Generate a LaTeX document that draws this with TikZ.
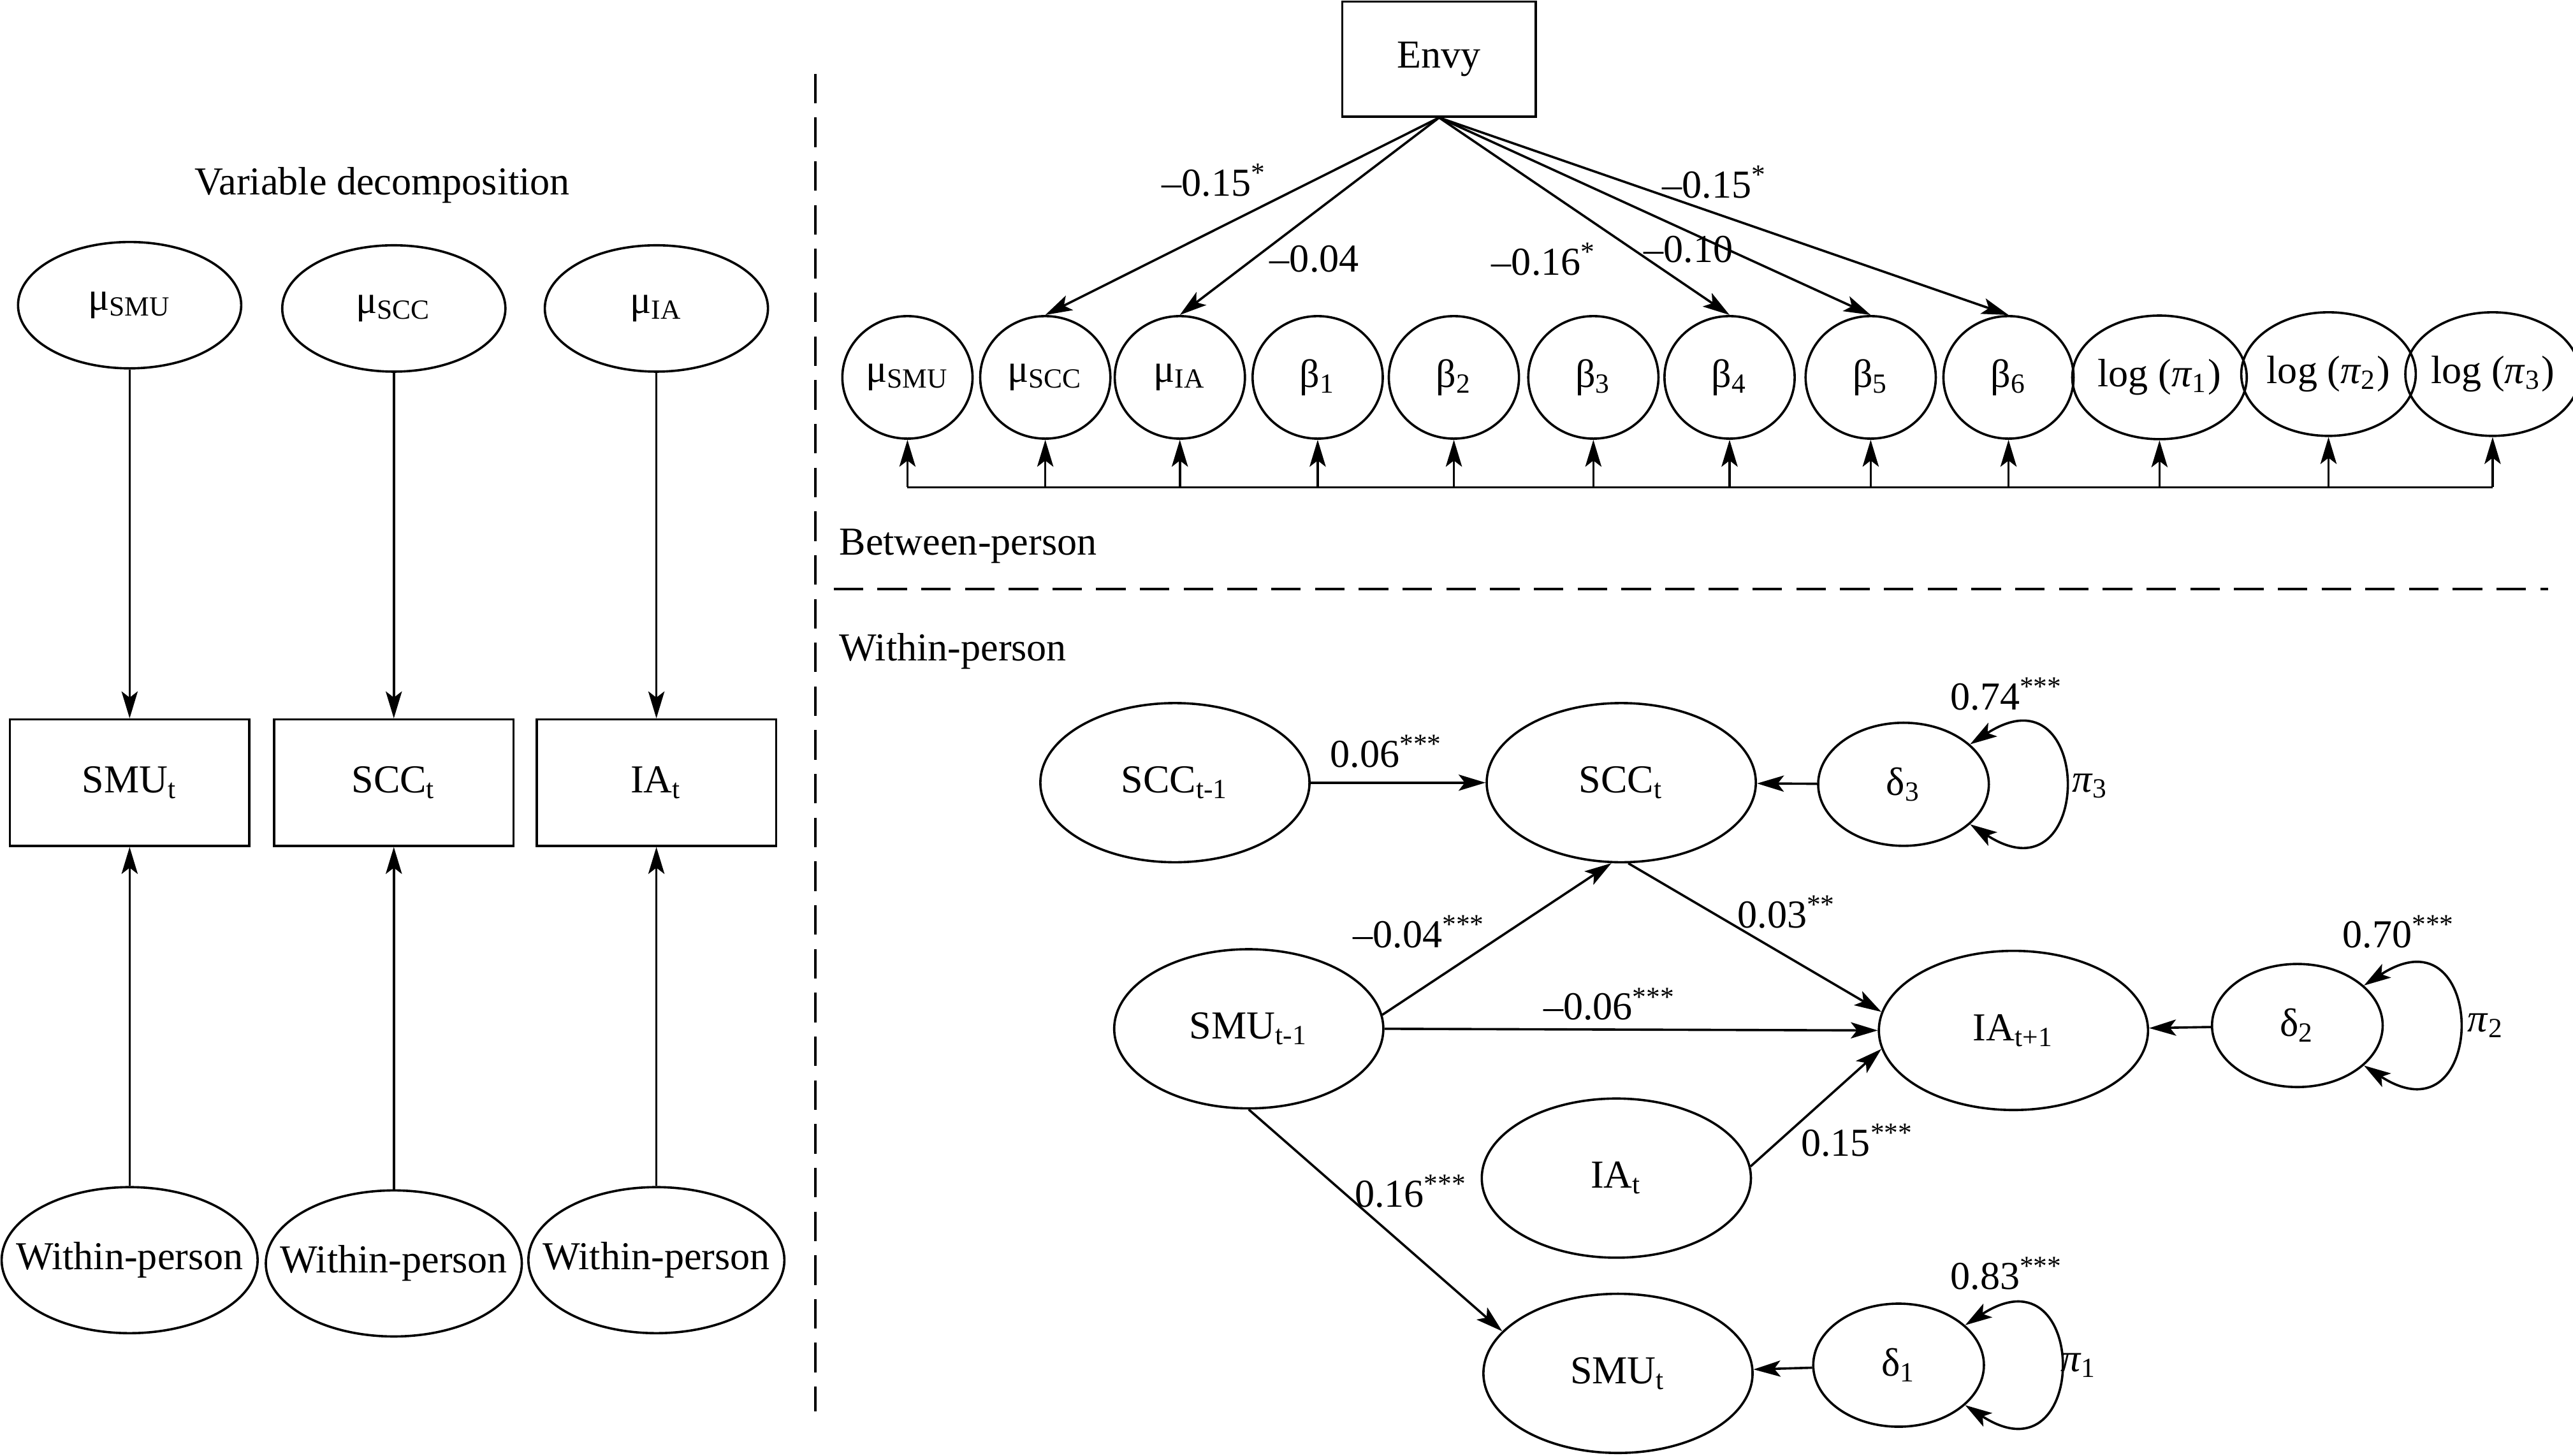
\documentclass[tikz,border=0pt]{standalone}
\usepackage{fontspec}
\setmainfont{Liberation Serif}
\usetikzlibrary{shapes.geometric,arrows.meta}

\begin{document}
\begin{tikzpicture}[x=0.015cm,y=0.015cm,line width=0.6pt,
  >={Stealth[length=7pt,width=4.2pt,inset=1.6pt]},
  every node/.style={font=\fontsize{10.3}{12}\selectfont},
  mubig/.style={draw,ellipse,inner sep=0pt,minimum width=2.04cm,minimum height=1.155cm},
  obsbox/.style={draw,rectangle,minimum width=2.19cm,minimum height=1.155cm},
  wpnode/.style={draw,ellipse,inner sep=0pt,minimum width=2.34cm,minimum height=1.335cm},
  coef/.style={draw,ellipse,inner sep=0pt,minimum width=1.19cm,minimum height=1.12cm},
  logcoef/.style={draw,ellipse,inner sep=0pt,minimum width=1.45cm,minimum height=1.13cm},
  latent/.style={draw,ellipse,inner sep=0pt,minimum width=2.46cm,minimum height=1.455cm},
  resid/.style={draw,ellipse,inner sep=0pt,minimum width=1.56cm,minimum height=1.125cm},
  dashline/.style={dash pattern=on 0.27cm off 0.13cm}]
\useasboundingbox (0,0) rectangle (1568,887);

\node (title) at (233,774) {Variable decomposition};
\node[mubig] (muL1) at (79,701) {μ\textsubscript{SMU}};
\node[mubig] (muL2) at (240,699) {μ\textsubscript{SCC}};
\node[mubig] (muL3) at (400,699) {μ\textsubscript{IA}};
\node[obsbox] (obsL1) at (79,410) {SMU\textsubscript{t}};
\node[obsbox] (obsL2) at (240,410) {SCC\textsubscript{t}};
\node[obsbox] (obsL3) at (400,410) {IA\textsubscript{t}};
\node[wpnode,label=center:{Within-person}] (wpL1) at (79,119) {};
\node[wpnode,label=center:{Within-person}] (wpL2) at (240,117) {};
\node[wpnode,label=center:{Within-person}] (wpL3) at (400,119) {};
\draw[->] (muL1) -- (obsL1);
\draw[->] (muL2) -- (obsL2);
\draw[->] (muL3) -- (obsL3);
\draw[->] (wpL1) -- (obsL1);
\draw[->] (wpL2) -- (obsL2);
\draw[->] (wpL3) -- (obsL3);

\coordinate (vtop) at (497,842);
\coordinate (vbot) at (497,27);
\coordinate (hleft) at (508,528);
\coordinate (hright) at (1553,528);
\draw[dashline] (vtop) -- (vbot);
\draw[dashline] (hleft) -- (hright);

\node[draw,rectangle,minimum width=1.77cm,minimum height=1.05cm] (envy) at (877,851) {Envy};
\node[coef] (mu1) at (553,657) {μ\textsubscript{SMU}};
\node[coef] (mu2) at (637,657) {μ\textsubscript{SCC}};
\node[coef] (mu3) at (719,657) {μ\textsubscript{IA}};
\node[coef] (b1) at (803,657) {β\textsubscript{1}};
\node[coef] (b2) at (886,657) {β\textsubscript{2}};
\node[coef] (b3) at (971,657) {β\textsubscript{3}};
\node[coef] (b4) at (1054,657) {β\textsubscript{4}};
\node[coef] (b5) at (1140,657) {β\textsubscript{5}};
\node[coef] (b6) at (1224,657) {β\textsubscript{6}};
\node[logcoef] (lp1) at (1316,657) {log (\textit{π}\textsubscript{1})};
\node[logcoef] (lp2) at (1419,659) {log (\textit{π}\textsubscript{2})};
\node[logcoef] (lp3) at (1519,659) {log (\textit{π}\textsubscript{3})};
\coordinate (baseL) at (553,590);
\coordinate (baseR) at (1519,590);
\draw (baseL) -- (baseR);
\foreach \n in {mu1,mu2,mu3,b1,b2,b3,b4,b5,b6,lp1,lp2,lp3}
  \draw[->] (\n |- baseL) -- (\n.south);
\draw[->] (envy.south) -- (mu2.north);
\draw[->] (envy.south) -- (mu3.north);
\draw[->] (envy.south) -- (b4.north);
\draw[->] (envy.south) -- (b5.north);
\draw[->] (envy.south) -- (b6.north);
\node (cE1) at (740,777) {–0.15\textsuperscript{*}};
\node (cE2) at (801,729) {–0.04};
\node (cE3) at (941,729) {–0.16\textsuperscript{*}};
\node (cE4) at (1029,735) {–0.10};
\node (cE5) at (1045,776) {–0.15\textsuperscript{*}};
\node[anchor=west] (btw) at (503,554) {Between-person};
\node[anchor=west] (wtn) at (503,490) {Within-person};

\node[latent] (sccP) at (716,410) {SCC\textsubscript{t-1}};
\node[latent] (sccT) at (988,410) {SCC\textsubscript{t}};
\node[latent] (smuP) at (761,260) {SMU\textsubscript{t-1}};
\node[latent] (iaN) at (1227,259) {IA\textsubscript{t+1}};
\node[latent] (iaT) at (985,169) {IA\textsubscript{t}};
\node[latent] (smuT) at (986,50) {SMU\textsubscript{t}};
\node[resid] (d3) at (1160,409) {δ\textsubscript{3}};
\node[resid] (d2) at (1400,262) {δ\textsubscript{2}};
\node[resid] (d1) at (1157,55) {δ\textsubscript{1}};

\draw[->] (sccP) -- (sccT);
\draw[->] (d3) -- (sccT);
\draw[->] (d2) -- (iaN);
\draw[->] (d1) -- (smuT);
\draw[->] (smuP.6) -- (sccT.-97);
\draw[->] (sccT.-85) -- (iaN.172);
\draw[->] (smuP.east) -- (iaN.west);
\draw[->] (iaT.5) -- (iaN.188);
\draw[->] (smuP.south) -- (smuT.160);
\draw[<->] (d3.31) .. controls +(33:1.36cm) and +(-33:1.36cm) .. (d3.-31);
\draw[<->] (d2.31) .. controls +(33:1.36cm) and +(-33:1.36cm) .. (d2.-31);
\draw[<->] (d1.31) .. controls +(33:1.36cm) and +(-33:1.36cm) .. (d1.-31);

\node (c1) at (845,429) {0.06\textsuperscript{***}};
\node (c2) at (865,319) {–0.04\textsuperscript{***}};
\node (c3) at (981,275) {–0.06\textsuperscript{***}};
\node (c4) at (1089,331) {0.03\textsuperscript{**}};
\node (c5) at (1132,192) {0.15\textsuperscript{***}};
\node (c6) at (860,161) {0.16\textsuperscript{***}};
\node (c7) at (1223,464) {0.74\textsuperscript{***}};
\node (c8) at (1462,319) {0.70\textsuperscript{***}};
\node (c9) at (1223,111) {0.83\textsuperscript{***}};
\node[anchor=west,inner sep=0pt] (p3) at (1262,408) {\textit{π}\textsubscript{3}};
\node[anchor=west,inner sep=0pt] (p2) at (1503,262) {\textit{π}\textsubscript{2}};
\node[anchor=west,inner sep=0pt] (p1) at (1255,55) {\textit{π}\textsubscript{1}};
\end{tikzpicture}
\end{document}
